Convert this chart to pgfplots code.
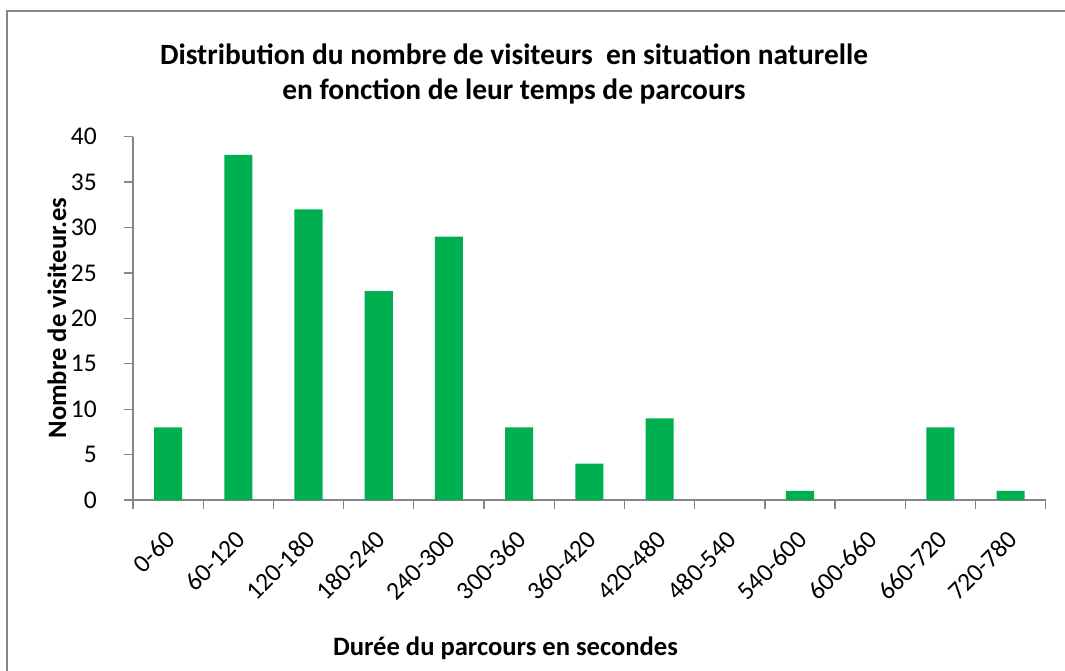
\documentclass[border=0pt]{standalone}
\usepackage{fontspec}
\setmainfont{Carlito}
\usepackage{pgfplots}
\pgfplotsset{compat=1.18}
\definecolor{bargreen}{RGB}{0,176,80}
\definecolor{axgray}{RGB}{134,134,134}
\begin{document}
\begin{tikzpicture}[x=1pt,y=1pt]
\useasboundingbox (0,0) rectangle (1065,-671);
\draw[axgray, line width=1.3pt] (7,-11) rectangle (1085,-690);
\begin{axis}[
  at={(133pt,-500pt)}, anchor=south west,
  scale only axis, width=912.7pt, height=363.3pt,
  xmin=-0.5, xmax=12.5, ymin=0, ymax=40,
  axis x line*=bottom, axis y line*=left,
  axis line style={axgray, line width=1.3pt, -},
  ybar, bar width=28.1pt,
  tick align=outside, major tick length=9pt,
  tick style={axgray, line width=1.3pt},
  ytick={0,5,...,40},
  xtick={-0.5,0.5,...,12.5}, xticklabels={},
  extra x ticks={0,1,...,12},
  extra x tick labels={0-60,60-120,120-180,180-240,240-300,300-360,360-420,420-480,480-540,540-600,600-660,660-720,720-780},
  extra x tick style={major tick length=0pt,
    tick label style={font=\fontsize{25.5}{30}\selectfont, text=black, yshift=-29pt, xshift=-4pt, rotate=45, anchor=north east, inner sep=0pt}},
  tick label style={font=\fontsize{25.5}{30}\selectfont, text=black},
  every y tick label/.append style={anchor=east, inner sep=0pt, xshift=-27pt},
  /pgf/number format/assume math mode=true,
  clip=false,
]
\addplot[fill=bargreen, draw=none] coordinates {
(0,8) (1,38) (2,32) (3,23) (4,29) (5,8) (6,4) (7,9) (8,0) (9,1) (10,0) (11,8) (12,1)};
\end{axis}
\node[anchor=base, font=\fontsize{29.4}{34}\selectfont\bfseries] at (514,-65) {Distribution du nombre de visiteurs\ \ en situation naturelle};
\node[anchor=base, font=\fontsize{29.4}{34}\selectfont\bfseries] at (514,-100) {en fonction de leur temps de parcours};
\node[rotate=90, font=\fontsize{26.6}{30}\selectfont\bfseries] at (57,-318) {Nombre de visiteur.es};
\node[anchor=base, font=\fontsize{26.6}{30}\selectfont\bfseries] at (505.5,-655) {Durée du parcours en secondes};
\end{tikzpicture}
\end{document}
